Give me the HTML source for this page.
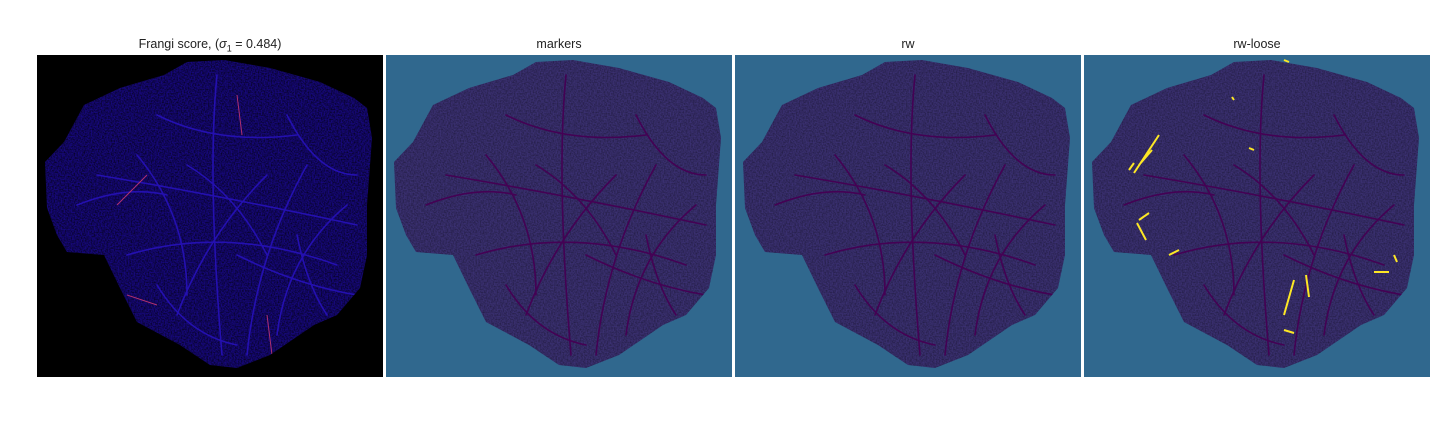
<!DOCTYPE html>
<html><head><meta charset="utf-8"><style>
body{margin:0;background:#fff;width:1440px;height:432px;overflow:hidden;font-family:"Liberation Sans",sans-serif}
.t{position:absolute;top:37px;width:346px;text-align:center;font-size:12.5px;color:#222}
svg{position:absolute;top:55px}
</style></head><body>
<div class="t" style="left:37px">Frangi score, (<i>σ</i><sub style="font-size:9px">1</sub> = 0.484)</div>
<div class="t" style="left:386px">markers</div>
<div class="t" style="left:735px">rw</div>
<div class="t" style="left:1084px">rw-loose</div>
<svg width="0" height="0" style="position:absolute">
<defs>
<path id="blob" d="M127,20 L150,7 L187,5 L233,13 L283,27 L317,43 L330,53 L335,83 L330,150 L330,200 L323,233 L300,260 L277,270 L233,300 L200,313 L173,310 L143,290 L100,267 L83,233 L67,200 L30,197 L20,180 L10,153 L8,107 L27,87 L47,50 L83,33 Z"/>
<filter id="noise" x="0" y="0" width="100%" height="100%"><feTurbulence type="fractalNoise" baseFrequency="0.7" numOctaves="1" seed="3"/><feColorMatrix type="matrix" values="0 0 0 0 0  0 0 0 0 0  0 0 0 0 0  1.5 0 0 0 -0.5"/></filter>
<clipPath id="clip"><use href="#blob"/></clipPath>
<g id="veins" fill="none" stroke-width="1.6" stroke-linecap="round">
<path d="M180,20 Q170,120 185,300 M120,60 Q180,90 260,80 M60,120 Q180,140 320,170 M90,200 Q190,170 300,210 M140,260 Q170,180 230,120 M210,300 Q220,200 270,110 M240,280 Q250,200 310,150 M100,100 Q150,160 150,240 M40,150 Q90,130 130,140 M250,60 Q280,120 320,120 M120,230 Q150,280 200,290 M200,200 Q260,230 320,240 M150,110 Q200,140 230,200 M260,180 Q270,230 290,260"/>
</g>
</defs></svg>
<svg style="left:37px" width="346" height="322">
<rect width="346" height="322" fill="#000"/>
<use href="#blob" fill="#16087a"/>
<g clip-path="url(#clip)"><rect width="346" height="322" filter="url(#noise)"/><use href="#veins" stroke="#2410b0"/>
<path d="M80,150 L110,120 M90,240 L120,250 M260,300 L270,320 M200,40 L205,80 M230,260 L235,300" stroke="#b03070" stroke-width="1" fill="none"/></g>
</svg>
<svg style="left:386px" width="346" height="322">
<rect width="346" height="322" fill="#30688e"/>
<use href="#blob" fill="#3a3070"/>
<g clip-path="url(#clip)"><rect width="346" height="322" filter="url(#noise)" opacity="0.5"/><use href="#veins" stroke="#440154"/></g>
</svg>
<svg style="left:735px" width="346" height="322">
<rect width="346" height="322" fill="#30688e"/>
<use href="#blob" fill="#3a3070"/>
<g clip-path="url(#clip)"><rect width="346" height="322" filter="url(#noise)" opacity="0.5"/><use href="#veins" stroke="#440154"/></g>
</svg>
<svg style="left:1084px" width="346" height="322">
<rect width="346" height="322" fill="#30688e"/>
<use href="#blob" fill="#3a3070"/>
<g clip-path="url(#clip)"><rect width="346" height="322" filter="url(#noise)" opacity="0.5"/><use href="#veins" stroke="#440154"/></g>
<g stroke="#fde725" stroke-width="2" fill="none">
<path d="M50,118 L75,80 M55,110 L68,95 M45,115 L50,108 M53,168 L62,185 M55,165 L65,158 M85,200 L95,195 M210,225 L200,260 M222,220 L225,242 M200,275 L210,278 M290,217 L305,217 M165,93 L170,95 M310,200 L313,207 M200,5 L205,7 M148,42 L150,45"/>
</g>
</svg>
</body></html>
